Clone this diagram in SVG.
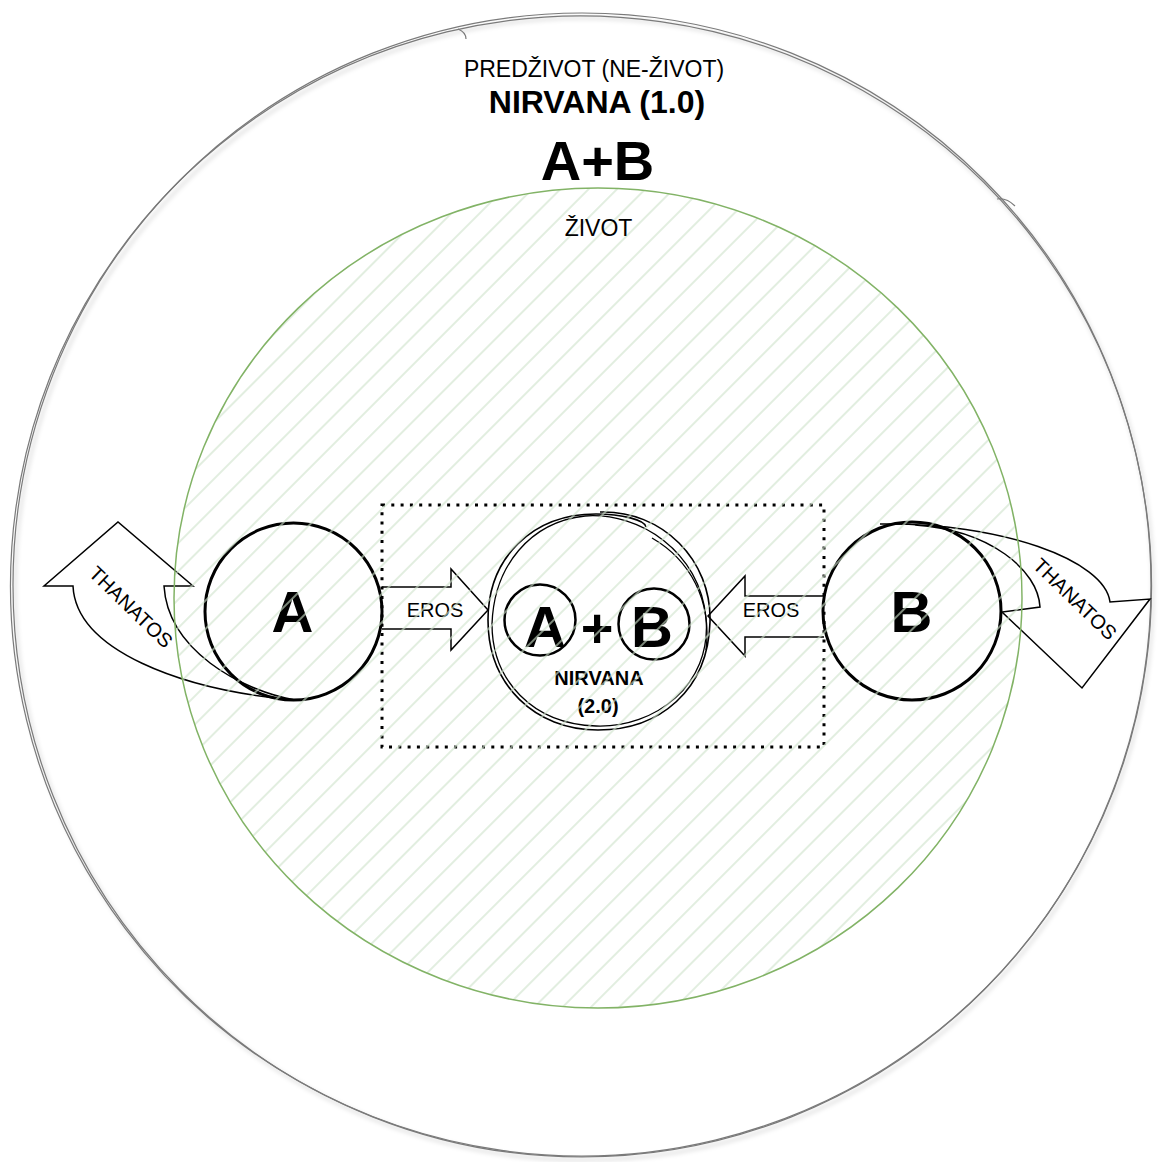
<svg xmlns="http://www.w3.org/2000/svg" width="1159" height="1162" viewBox="0 0 1159 1162">
<defs>
  <pattern id="hatch" patternUnits="userSpaceOnUse" width="20" height="20" patternTransform="rotate(45)">
    <line x1="10" y1="0" x2="10" y2="20" stroke="#cfe3cb" stroke-width="1.2"/>
  </pattern>
  <filter id="soft" x="-5%" y="-5%" width="110%" height="110%">
    <feGaussianBlur stdDeviation="2"/>
  </filter>
</defs>
<style>
  text { font-family: "Liberation Sans", Arial, sans-serif; fill: #000; }
  .sketch { fill: none; stroke: #7a7a7a; stroke-width: 1.2; }
  .ring { fill: none; stroke: #000; stroke-width: 3; }
  .arrow { fill: none; stroke: #000; stroke-width: 1.5; stroke-linejoin: miter; }
  .lbl { font-size: 20px; text-anchor: middle; }
  .big { font-size: 56px; font-weight: bold; text-anchor: middle; }
</style>

<!-- Outer container: PREDŽIVOT -->
<g id="node-predzivot">
  <ellipse cx="584" cy="589" rx="569" ry="571" fill="none" stroke="#000" stroke-opacity="0.12" stroke-width="3" filter="url(#soft)"/>
  <ellipse class="sketch" cx="582" cy="585" rx="569" ry="572"/>
  <ellipse class="sketch" cx="581" cy="586" rx="570.5" ry="570" transform="rotate(8 581 586)"/>
  <path class="sketch" d="M458,29 C463,31 466,34 466,39"/>
  <path class="sketch" d="M997,199 C1003,198 1010,201 1015,206"/>
  <text x="594" y="77" style="font-size:23px" text-anchor="middle">PREDŽIVOT (NE-ŽIVOT)</text>
  <text x="597" y="113" style="font-size:32px;font-weight:bold" text-anchor="middle">NIRVANA (1.0)</text>
  <text x="597.5" y="180" class="big">A+B</text>
</g>

<!-- Dotted group box -->
<g id="node-box">
  <rect x="382" y="505" width="442" height="242" fill="none" stroke="#000" stroke-width="3" stroke-dasharray="3 6.3"/>
</g>

<!-- Node A -->
<g id="node-a">
  <circle class="ring" cx="293.5" cy="611.5" r="88.5"/>
  <text x="292.5" y="632" class="big" style="font-size:58px">A</text>
</g>

<!-- Node B -->
<g id="node-b">
  <circle class="ring" cx="912" cy="611" r="89"/>
  <text x="911.5" y="632" class="big" style="font-size:58px">B</text>
</g>

<!-- Node A+B NIRVANA 2.0 -->
<g id="node-nirvana2">
  <path fill="none" stroke="#000" stroke-width="1.6" d="M600,512 C662,510 712,560 710,622 C708,690 660,730 598,730 C535,730 488,685 488,620 C488,558 532,514 596,514 C622,514 645,520 646,527"/>
  <path fill="none" stroke="#000" stroke-width="1.3" d="M585,516 C640,512 700,552 706,618 C712,685 655,728 596,726 C532,724 492,680 492,624 C494,566 530,522 585,516"/>
  <path fill="none" stroke="#000" stroke-width="1.3" d="M652,538 C690,560 712,600 706,650"/>
  <circle cx="540" cy="620" r="35.5" fill="none" stroke="#000" stroke-width="2.5"/>
  <circle cx="654" cy="624" r="35.5" fill="none" stroke="#000" stroke-width="2.5"/>
  <text x="545" y="647" class="big" style="font-size:58px">A</text>
  <text x="597" y="647" class="big">+</text>
  <text x="652" y="647" class="big" style="font-size:58px">B</text>
  <text x="599" y="685" class="lbl" style="font-weight:bold">NIRVANA</text>
  <text x="598" y="713" class="lbl" style="font-weight:bold">(2.0)</text>
</g>

<!-- Connectors -->
<g id="connectors">
  <g id="eros-left">
    <path class="arrow" d="M382,587 L451,587 L451,569 L488,610 L451,650 L451,629 L382,629"/>
    <text x="435" y="617" class="lbl">EROS</text>
  </g>
  <g id="eros-right">
    <path class="arrow" d="M824,596 L745,596 L745,576 L708,616 L745,656 L745,637 L824,637"/>
    <text x="771" y="617" class="lbl">EROS</text>
  </g>
  <g id="thanatos-left">
    <path class="arrow" d="M73,586 C76,650 180,690 295,700 C240,690 168,650 164,586 L193,586 L118,522 L44,586 Z"/>
    <text x="131" y="607" class="lbl" dominant-baseline="central" transform="rotate(44 131 607)">THANATOS</text>
  </g>
  <g id="thanatos-right">
    <path class="arrow" d="M880,524 C1000,522 1105,560 1110,602 L1150,599 L1082,688 L1002,612 L1040,607 C1038,570 990,530 915,525"/>
    <text x="1075" y="599" class="lbl" dominant-baseline="central" transform="rotate(44 1075 599)">THANATOS</text>
  </g>
</g>

<!-- Life container (hatched, drawn on top) -->
<g id="node-zivot">
  <ellipse cx="598" cy="598" rx="424" ry="410" fill="url(#hatch)" stroke="#82b366" stroke-width="1.5"/>
  <text x="598.5" y="236" style="font-size:23px" text-anchor="middle">ŽIVOT</text>
</g>
</svg>
